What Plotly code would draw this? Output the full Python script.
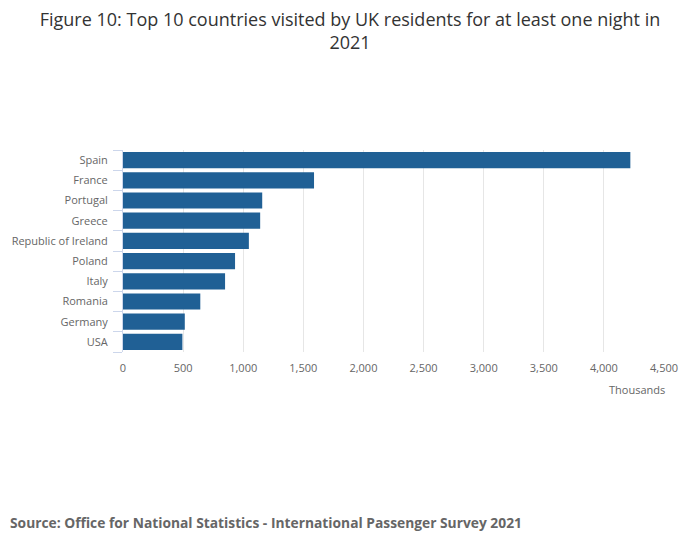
import plotly.graph_objects as go

countries = ["Spain", "France", "Portugal", "Greece", "Republic of Ireland",
             "Poland", "Italy", "Romania", "Germany", "USA"]
visits = [4220, 1589, 1158, 1141, 1047, 932, 849, 643, 514, 494]
x_ticks = [0, 500, 1000, 1500, 2000, 2500, 3000, 3500, 4000, 4500]

fig = go.Figure()
fig.add_trace(go.Bar(
    x=visits, y=countries, orientation="h",
    marker=dict(color="#206095", line=dict(width=0)),
    hovertemplate="%{y}: %{x:,}<extra></extra>",
))

# the page body has an 8px margin, so the figure is sized/offset to compensate
W, H = 692, 541
plot_l, plot_r = 114.5, 656.5
plot_w = plot_r - plot_l
plot_t, plot_b = 142, 344
plot_h = plot_b - plot_t

fig.update_layout(
    width=W, height=H,
    margin=dict(l=plot_l, r=W - plot_r, t=plot_t, b=H - plot_b),
    paper_bgcolor="white", plot_bgcolor="white",
    font=dict(family="Open Sans", color="#666666", size=11),
    title=dict(
        text="Figure 10: Top 10 countries visited by UK residents for at least one night in<br>2021",
        x=342 / W, xanchor="center", y=0.967, yanchor="top",
        font=dict(size=18, color="#333333"),
    ),
    bargap=0.2,
    showlegend=False,
    xaxis=dict(
        range=[0, 4500], tickvals=x_ticks, tickformat=",",
        showgrid=True, gridcolor="#e6e6e6", gridwidth=1,
        zeroline=False, showline=False, ticks="",
        ticklabelstandoff=8, automargin=False,
        tickfont=dict(size=11, color="#666666"),
    ),
    yaxis=dict(
        categoryorder="array", categoryarray=countries[::-1],
        showline=True, linecolor="#ccd6eb", linewidth=1,
        ticks="outside", tickson="boundaries", ticklen=9, tickcolor="#ccd6eb",
        ticklabelstandoff=12, automargin=False,
        tickfont=dict(size=11, color="#666666"),
    ),
    annotations=[
        dict(text="Thousands", xref="paper", yref="paper", x=1.005, y=-0.14,
             xanchor="right", yanchor="top", showarrow=False,
             font=dict(size=11, color="#666666")),
        dict(text="<b>Source: Office for National Statistics - International Passenger Survey 2021</b>",
             xref="paper", yref="paper", x=(0 - plot_l) / plot_w, y=-(514 - plot_b) / plot_h,
             xanchor="left", yanchor="middle", showarrow=False, borderpad=0,
             font=dict(size=13.8, color="#666666")),
    ],
)

fig.write_html("out.html")
